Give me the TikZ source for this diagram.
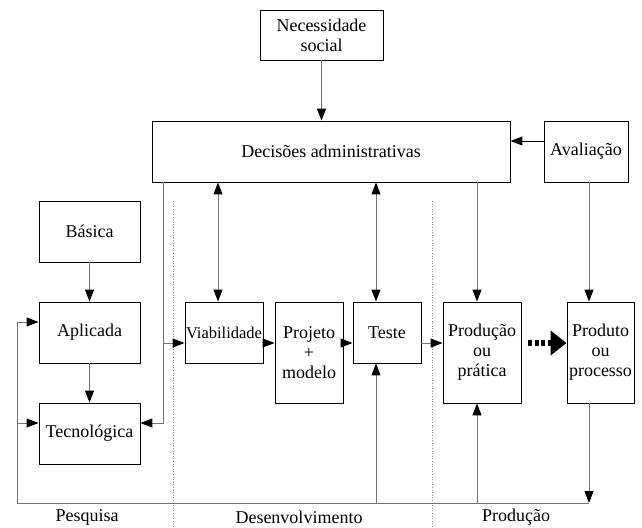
\documentclass[tikz,border=0pt]{standalone}
\usepackage{fontspec}
\setmainfont{Liberation Serif}
\usetikzlibrary{arrows.meta,calc}
\begin{document}
\begin{tikzpicture}[x=1pt,y=-1pt,
  box/.style={draw=black,line width=0.9pt,rectangle,inner sep=0pt,align=center,
    font=\fontsize{18}{20}\selectfont},
  conn/.style={draw=black!55,line width=1pt},
  tip/.style={-{Triangle[length=12pt,width=9pt,color=black]}},
  both/.style={{Triangle[length=12pt,width=9pt,color=black]}-{Triangle[length=12pt,width=9pt,color=black]}},
  sep/.style={draw=black!45,line width=0.6pt,dotted},
  lab/.style={font=\fontsize{18}{20}\selectfont}]
\useasboundingbox (0,0) rectangle (642,527);
% boxes
\node[box,minimum width=123pt,minimum height=50pt] (nec) at (321.5,35) {Necessidade\\social};
\node[box,minimum width=358pt,minimum height=61pt] (dec) at (331,151.5) {Decisões administrativas};
\node[box,minimum width=84pt,minimum height=61pt] (ava) at (586,151.5) {Avaliação};
\node[box,minimum width=101pt,minimum height=61pt] (bas) at (89.5,231.5) {Básica};
\node[box,minimum width=101pt,minimum height=61pt] (apl) at (89.5,332.5) {Aplicada};
\node[box,minimum width=101pt,minimum height=61pt] (tec) at (89.5,433.5) {Tecnológica};
\node[box,minimum width=78pt,minimum height=61pt,font=\fontsize{16.5}{18}\selectfont] (via) at (224,332.5) {Viabilidade};
\node[box,minimum width=68pt,minimum height=101pt] (pro) at (309,352.5) {Projeto\\+\\modelo};
\node[box,minimum width=68pt,minimum height=61pt] (tes) at (387,332.5) {Teste};
\node[box,minimum width=78pt,minimum height=101pt] (prd) at (482,352.5) {Produção\\ou\\prática};
\node[box,minimum width=67pt,minimum height=101pt] (prt) at (600.5,352.5) {Produto\\ou\\processo};
% labels
\node[lab] (lp) at (87,517) {Pesquisa};
\node[lab] (ld) at (299,517) {Desenvolvimento};
\node[lab] (lr) at (516,517) {Produção};
% reference coordinates
\coordinate (xl) at (163,0);
\coordinate (xv) at (218,0);
\coordinate (xt) at (376,0);
\coordinate (xp) at (477,0);
\coordinate (xq) at (589,0);
\coordinate (xf) at (17,0);
\coordinate (ymid) at (0,343);
\coordinate (ybot) at (0,503);
\coordinate (yav) at (0,141);
\coordinate (yap) at (0,322);
\coordinate (ytc) at (0,423);
\coordinate (bl) at (xf |- ybot);
\coordinate (br) at (xq |- ybot);
\coordinate (kl) at (xl |- ytc);
\coordinate (km) at (xl |- ymid);
% separators
\draw[sep] (173,201) -- (173,527);
\draw[sep] (432,201) -- (432,527);
% connectors
\draw[conn,tip] (nec) -- (nec |- dec.north);
\draw[conn,tip,draw=black] (ava.west |- yav) -- (dec.east |- yav);
\draw[conn,tip] (bas) -- (apl);
\draw[conn,tip] (apl) -- (tec);
\draw[conn,tip] (dec.south -| xl) -- (kl) -- (tec.east |- ytc);
\draw[conn,tip] (km) -- (via.west |- ymid);
\draw[conn,both] (dec.south -| xv) -- (via.north -| xv);
\draw[conn,both] (dec.south -| xt) -- (tes.north -| xt);
\draw[conn,tip] (dec.south -| xp) -- (prd.north -| xp);
\draw[conn,tip] (ava.south -| xq) -- (prt.north -| xq);
\draw[conn,tip] (via.east |- ymid) -- (pro.west |- ymid);
\draw[conn,tip] (pro.east |- ymid) -- (tes.west |- ymid);
\draw[conn,tip] (tes.east |- ymid) -- (prd.west |- ymid);
\draw[conn,tip] (prt.south -| xq) -- (br);
\draw[conn,tip] (br) -- (bl) -- (bl |- yap) -- (apl.west |- yap);
\draw[conn,tip] (bl |- ytc) -- (tec.west |- ytc);
\draw[conn,tip] (xt |- ybot) -- (tes.south -| xt);
\draw[conn,tip] (xp |- ybot) -- (prd.south -| xp);
\draw[line width=6pt,dash pattern=on 4pt off 2.5pt,-{Triangle[length=16pt,width=24pt]}] ($(prd.east |- ymid)+(7,0)$) -- (prt.west |- ymid);
\end{tikzpicture}
\end{document}
